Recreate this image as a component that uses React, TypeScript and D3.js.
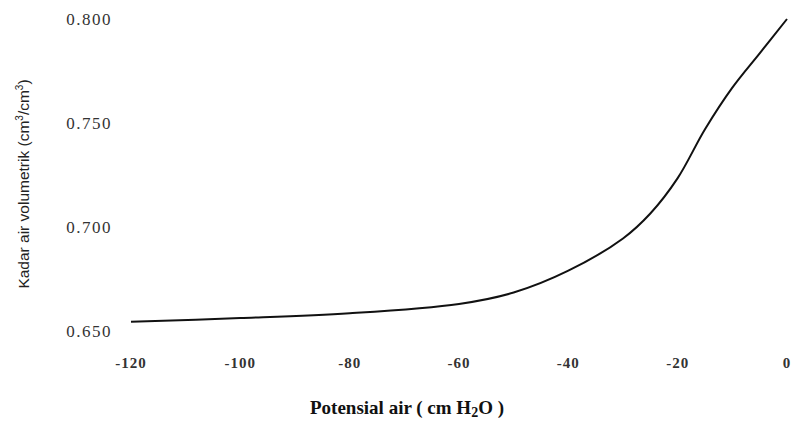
import React from "react";
import * as d3 from "d3";

// potential (cm H2O) vs volumetric water content
const potensial = [-120, -100, -80, -60, -50, -40, -30, -25, -20, -15, -10, -5, 0];
const kadarAir = [0.6545, 0.6562, 0.6585, 0.663, 0.6685, 0.679, 0.6945, 0.7065, 0.7235, 0.747, 0.767, 0.7835, 0.8];

const xTicks = [-120, -100, -80, -60, -40, -20, 0];
const yTicks = [0.65, 0.7, 0.75, 0.8];

const width = 791;
const height = 423;

const App = () => {
  // scales set so tick labels land where they sit in the reference
  const x = d3.scaleLinear().domain([-120, 0]).range([131, 787]);
  const y = d3.scaleLinear().domain([0.65, 0.8]).range([331, 19]);

  const points = potensial.map((p, i) => [p, kadarAir[i]] as [number, number]);
  const line = d3
    .line<[number, number]>()
    .x((d) => x(d[0]))
    .y((d) => y(d[1]))
    .curve(d3.curveCatmullRom.alpha(0.5));

  return (
    <svg
      width={width}
      height={height}
      style={{ position: "absolute", left: 0, top: 0, background: "#fff" }}
    >
      {/* y tick labels */}
      {yTicks.map((t) => (
        <text
          key={t}
          x={112}
          y={y(t)}
          dy="0.35em"
          textAnchor="end"
          fontFamily="Liberation Serif"
          fontSize={17}
          letterSpacing={1.5}
          fill="#333"
        >
          {d3.format(".3f")(t)}
        </text>
      ))}

      {/* x tick labels */}
      {xTicks.map((t) => (
        <text
          key={t}
          x={x(t)}
          y={368}
          textAnchor="middle"
          fontFamily="Liberation Serif"
          fontWeight="bold"
          fontSize={15}
          letterSpacing={1}
          fill="#333"
        >
          {t}
        </text>
      ))}

      <path d={line(points) ?? ""} fill="none" stroke="#111" strokeWidth={2} />

      {/* axis titles */}
      <text
        x={407}
        y={414}
        textAnchor="middle"
        fontFamily="Liberation Serif"
        fontWeight="bold"
        fontSize={19}
        fill="#111"
      >
        Potensial air ( cm H
        <tspan fontSize={14} dy={3}>2</tspan>
        <tspan dy={-3}>O )</tspan>
      </text>
      <text
        transform="translate(29,184) rotate(-90)"
        textAnchor="middle"
        fontFamily="Liberation Sans"
        fontSize={15.5}
        fill="#222"
      >
        Kadar air volumetrik (cm
        <tspan fontSize={10} dy={-6}>3</tspan>
        <tspan dy={6}>/cm</tspan>
        <tspan fontSize={10} dy={-6}>3</tspan>
        <tspan dy={6}>)</tspan>
      </text>
    </svg>
  );
};

export default App;
